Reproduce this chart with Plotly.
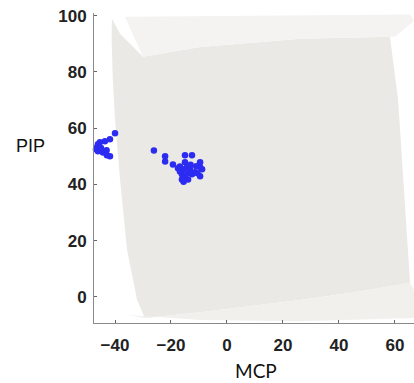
import plotly.graph_objects as go

# Blue data points (MCP, PIP)
mcp_left = [-40.0, -41.8, -43.6, -45.4, -46.1, -46.4, -46.8, -46.1, -44.3, -42.9, -41.8, -45.0, -43.0]
pip_left = [58.2, 56.1, 55.4, 55.0, 54.3, 53.2, 52.5, 51.8, 51.4, 50.4, 50.0, 53.0, 52.2]

mcp_right = [-26.1, -22.1, -22.1, -19.3, -16.8, -15.0, -12.5, -15.0, -15.7, -16.1, -16.1, -13.9,
             -12.5, -11.4, -9.6, -8.9, -9.6, -15.0, -16.8, -14.3, -13.2, -9.6, -17.5, -14.0,
             -11.0, -10.5, -15.5, -13.0]
pip_right = [52.1, 50.0, 48.2, 47.1, 46.4, 50.4, 50.4, 47.9, 45.4, 43.6, 41.8, 41.8,
             43.6, 44.3, 47.9, 45.4, 42.9, 42.9, 44.6, 46.1, 45.4, 46.1, 45.8, 44.0,
             46.5, 44.0, 41.0, 47.0]

# Background surface outlines (MCP, PIP)
surf_x = [-41.1, -38.2, -30.0, -9.6, 26.1, 58.2, 61.1, 63.6, 65.4, 43.9, 26.1, -9.6, -29.3,
          -32.1, -35.7, -38.2, -40.0, -40.8, -41.2]
surf_y = [98.9, 93.6, 85.4, 88.9, 91.8, 92.5, 70.4, 34.6, 5.0, 1.4, -1.1, -5.4, -7.5,
          -1.1, 16.8, 41.8, 63.2, 77.5, 91.8]

top_fold_x = [-36.4, 65.4, 66.8, 60.0, 26.1, -9.6, -30.0, -34.6]
top_fold_y = [99.6, 100.4, 98.2, 92.5, 91.8, 88.9, 85.4, 95.4]

bot_fold_x = [-35.7, -9.6, 26.1, 66.8, 66.8, 65.4, 43.9, 26.1, -9.6, -29.3]
bot_fold_y = [-6.4, -8.2, -8.6, -7.5, 2.5, 5.0, 1.4, -1.1, -5.4, -7.5]

x_ticks = [-40, -20, 0, 20, 40, 60]
y_ticks = [0, 20, 40, 60, 80, 100]

fig = go.Figure()
fig.add_trace(go.Scatter(x=surf_x, y=surf_y, mode="lines", fill="toself",
                         fillcolor="#ebe9e5", line=dict(width=0), hoverinfo="skip"))
fig.add_trace(go.Scatter(x=top_fold_x, y=top_fold_y, mode="lines", fill="toself",
                         fillcolor="#f4f3f1", line=dict(width=0), hoverinfo="skip"))
fig.add_trace(go.Scatter(x=bot_fold_x, y=bot_fold_y, mode="lines", fill="toself",
                         fillcolor="#f1f0ed", line=dict(width=0), hoverinfo="skip"))
marker = dict(color="#2b2bf2", size=6.5, line=dict(width=0))
fig.add_trace(go.Scatter(x=mcp_left, y=pip_left, mode="markers", marker=marker, cliponaxis=False))
fig.add_trace(go.Scatter(x=mcp_right, y=pip_right, mode="markers", marker=marker))

axis_common = dict(showgrid=False, zeroline=False, showline=True, linecolor="#8a8a8a",
                   linewidth=1, ticks="inside", ticklen=3, tickcolor="#666666",
                   tickfont=dict(family="Liberation Sans", size=17, color="#222222", weight="bold"))
fig.update_xaxes(range=[-47.5, 66.8], tickvals=x_ticks, ticklabelstandoff=7, **axis_common)
fig.update_yaxes(range=[-9.25, 100.95], tickvals=y_ticks, ticklabelstandoff=3, **axis_common)

fig.add_annotation(text="PIP", xref="paper", yref="paper", x=-0.2, y=0.57,
                   xanchor="center", yanchor="middle", showarrow=False,
                   font=dict(family="Liberation Sans", size=18, color="#111111"))
fig.add_annotation(text="MCP", xref="paper", yref="paper", x=0.505, y=-0.152,
                   xanchor="center", yanchor="middle", showarrow=False,
                   font=dict(family="Lato", size=19, color="#111111"))

fig.update_layout(width=414, height=383, margin=dict(l=94, r=0, t=13, b=60),
                  paper_bgcolor="white", plot_bgcolor="white", showlegend=False)
fig.write_html("out.html")
